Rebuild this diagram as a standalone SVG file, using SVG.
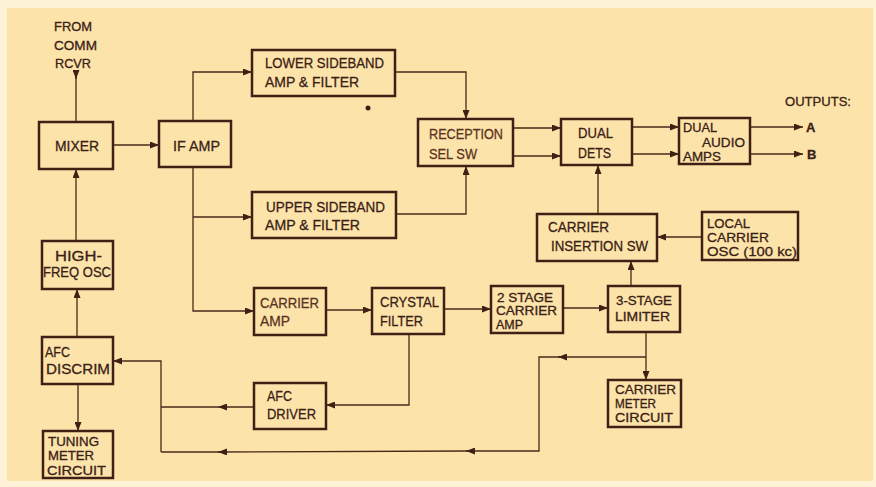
<svg xmlns="http://www.w3.org/2000/svg" width="876" height="487" viewBox="0 0 876 487">
<style>
.bx{fill:none;stroke:#3e2014;stroke-width:2.5}
.ln{fill:none;stroke:#4a2818;stroke-width:1.3}
.ar{marker-end:url(#ah)}
text{font-family:"Liberation Sans",Arial,sans-serif;font-size:15px;fill:#3a2115;stroke:#3a2115;stroke-width:0.3}
.s{font-size:13px}
.xs{font-size:12px}
.lt{fill:#5a3322;stroke:#5a3322}
.b{font-weight:bold}
</style>
<defs>
<marker id="ah" markerUnits="userSpaceOnUse" markerWidth="9" markerHeight="7" refX="9" refY="3.5" orient="auto">
<path d="M0,0 L9,3.5 L0,7 z" fill="#3e2014"/>
</marker>
</defs>
<rect x="0" y="0" width="876" height="487" fill="#fdf1d6"/>
<rect x="7" y="8" width="866" height="473" fill="#fce3aa"/>
<circle cx="368" cy="108" r="2.5" fill="#3e2014"/>

<g id="connectors">
<path class="ln" d="M76,73 L76,122"/>
<path class="ln ar" d="M76,70 L76,79"/>
<path class="ln ar" d="M113,145 L159,145"/>
<path class="ln ar" d="M193,121 L193,72 L252,72"/>
<path class="ln ar" d="M193,167 L193,311 L254,311"/>
<path class="ln ar" d="M193,217 L252,217"/>
<path class="ln ar" d="M395,72 L466,72 L466,119"/>
<path class="ln ar" d="M396,214 L466,214 L466,166"/>
<path class="ln ar" d="M513,128 L561,128"/>
<path class="ln ar" d="M513,156 L561,156"/>
<path class="ln ar" d="M632,127 L679,127"/>
<path class="ln ar" d="M632,154 L679,154"/>
<path class="ln ar" d="M750,127 L803,127"/>
<path class="ln ar" d="M750,154 L803,154"/>
<path class="ln ar" d="M598,214 L598,165"/>
<path class="ln ar" d="M702,237 L657,237"/>
<path class="ln ar" d="M631,286 L631,261"/>
<path class="ln ar" d="M326,310 L372,310"/>
<path class="ln ar" d="M444,309 L491,309"/>
<path class="ln ar" d="M563,308 L608,308"/>
<path class="ln ar" d="M409,334 L409,405 L326,405"/>
<path class="ln ar" d="M254,407 L218,407"/>
<path class="ln" d="M218,407 L161,407"/>
<path class="ln ar" d="M161,452 L161,361 L113,361"/>
<path class="ln ar" d="M646,332 L646,380"/>
<path class="ln ar" d="M646,357 L558,357"/>
<path class="ln ar" d="M560,357 L539,357 L539,451 L466,451"/>
<path class="ln ar" d="M468,451 L218,452"/>
<path class="ln" d="M220,452 L161,452"/>
<path class="ln ar" d="M77,337 L77,289"/>
<path class="ln ar" d="M76,241 L76,169"/>
<path class="ln ar" d="M78,384 L78,431"/>
</g>

<g id="source">
<text x="54" y="31" class="s" textLength="38" lengthAdjust="spacingAndGlyphs">FROM</text>
<text x="54" y="50" class="s" textLength="43" lengthAdjust="spacingAndGlyphs">COMM</text>
<text x="55" y="68" class="s" textLength="36" lengthAdjust="spacingAndGlyphs">RCVR</text>
</g>

<g id="mixer">
<rect class="bx" x="39" y="122" width="74" height="47"/>
<text x="55" y="151" textLength="44" lengthAdjust="spacingAndGlyphs">MIXER</text>
</g>

<g id="ifamp">
<rect class="bx" x="159" y="121" width="72" height="46"/>
<text x="173" y="151" textLength="47" lengthAdjust="spacingAndGlyphs">IF AMP</text>
</g>

<g id="lower">
<rect class="bx" x="252" y="50" width="143" height="46"/>
<text x="265" y="68" textLength="119" lengthAdjust="spacingAndGlyphs">LOWER SIDEBAND</text>
<text x="265" y="87" textLength="94" lengthAdjust="spacingAndGlyphs">AMP &amp; FILTER</text>
</g>

<g id="upper">
<rect class="bx" x="252" y="192" width="144" height="46"/>
<text x="266" y="212" textLength="119" lengthAdjust="spacingAndGlyphs">UPPER SIDEBAND</text>
<text x="265" y="230" textLength="95" lengthAdjust="spacingAndGlyphs">AMP &amp; FILTER</text>
</g>

<g id="reception">
<rect class="bx" x="418" y="119" width="95" height="47"/>
<text x="429" y="139" class="lt" textLength="74" lengthAdjust="spacingAndGlyphs">RECEPTION</text>
<text x="429" y="159" class="lt" textLength="48" lengthAdjust="spacingAndGlyphs">SEL SW</text>
</g>

<g id="dualdets">
<rect class="bx" x="561" y="119" width="71" height="46"/>
<text x="578" y="138" textLength="35" lengthAdjust="spacingAndGlyphs">DUAL</text>
<text x="578" y="158" textLength="33" lengthAdjust="spacingAndGlyphs">DETS</text>
</g>

<g id="audioamps">
<rect class="bx" x="679" y="118" width="71" height="46"/>
<text x="683" y="132" class="s" textLength="34" lengthAdjust="spacingAndGlyphs">DUAL</text>
<text x="702" y="147" class="s" textLength="43" lengthAdjust="spacingAndGlyphs">AUDIO</text>
<text x="683" y="161" class="s" textLength="38" lengthAdjust="spacingAndGlyphs">AMPS</text>
</g>

<g id="outputs">
<text x="785" y="106" class="s" textLength="66" lengthAdjust="spacingAndGlyphs">OUTPUTS:</text>
<text x="806" y="132" class="s b">A</text>
<text x="807" y="159" class="s b">B</text>
</g>

<g id="insertion">
<rect class="bx" x="537" y="214" width="120" height="47"/>
<text x="548" y="232" textLength="61" lengthAdjust="spacingAndGlyphs">CARRIER</text>
<text x="551" y="251" textLength="97" lengthAdjust="spacingAndGlyphs">INSERTION SW</text>
</g>

<g id="localosc">
<rect class="bx" x="702" y="212" width="96" height="48"/>
<text x="707" y="228" class="s" textLength="43" lengthAdjust="spacingAndGlyphs">LOCAL</text>
<text x="707" y="242" class="s" textLength="62" lengthAdjust="spacingAndGlyphs">CARRIER</text>
<text x="707" y="256" class="s" textLength="90" lengthAdjust="spacingAndGlyphs">OSC (100 kc)</text>
</g>

<g id="highfreq">
<rect class="bx" x="42" y="241" width="71" height="48"/>
<text x="55" y="261" textLength="47" lengthAdjust="spacingAndGlyphs">HIGH-</text>
<text x="43" y="277" textLength="68" lengthAdjust="spacingAndGlyphs">FREQ OSC</text>
</g>

<g id="carrieramp">
<rect class="bx" x="254" y="288" width="72" height="47"/>
<text x="260" y="308" class="lt" textLength="59" lengthAdjust="spacingAndGlyphs">CARRIER</text>
<text x="260" y="326" class="lt" textLength="30" lengthAdjust="spacingAndGlyphs">AMP</text>
</g>

<g id="crystal">
<rect class="bx" x="372" y="288" width="72" height="46"/>
<text x="380" y="307" textLength="59" lengthAdjust="spacingAndGlyphs">CRYSTAL</text>
<text x="380" y="326" textLength="43" lengthAdjust="spacingAndGlyphs">FILTER</text>
</g>

<g id="twostage">
<rect class="bx" x="491" y="286" width="72" height="47"/>
<text x="497" y="302" class="xs" textLength="56" lengthAdjust="spacingAndGlyphs">2 STAGE</text>
<text x="496" y="315" class="xs" textLength="61" lengthAdjust="spacingAndGlyphs">CARRIER</text>
<text x="496" y="329" class="xs" textLength="27" lengthAdjust="spacingAndGlyphs">AMP</text>
</g>

<g id="limiter">
<rect class="bx" x="608" y="286" width="72" height="46"/>
<text x="616" y="305" class="s" textLength="56" lengthAdjust="spacingAndGlyphs">3-STAGE</text>
<text x="615" y="321" class="s" textLength="55" lengthAdjust="spacingAndGlyphs">LIMITER</text>
</g>

<g id="afcdiscrim">
<rect class="bx" x="42" y="337" width="71" height="47"/>
<text x="45" y="357" textLength="25" lengthAdjust="spacingAndGlyphs">AFC</text>
<text x="46" y="374" textLength="64" lengthAdjust="spacingAndGlyphs">DISCRIM</text>
</g>

<g id="afcdriver">
<rect class="bx" x="254" y="383" width="72" height="46"/>
<text x="267" y="401" textLength="25" lengthAdjust="spacingAndGlyphs">AFC</text>
<text x="267" y="419" textLength="49" lengthAdjust="spacingAndGlyphs">DRIVER</text>
</g>

<g id="carriermeter">
<rect class="bx" x="608" y="380" width="73" height="47"/>
<text x="615" y="394" class="s" textLength="61" lengthAdjust="spacingAndGlyphs">CARRIER</text>
<text x="615" y="408" class="s" textLength="41" lengthAdjust="spacingAndGlyphs">METER</text>
<text x="615" y="422" class="s" textLength="58" lengthAdjust="spacingAndGlyphs">CIRCUIT</text>
</g>

<g id="tuningmeter">
<rect class="bx" x="43" y="431" width="70" height="47"/>
<text x="48" y="446" class="s" textLength="51" lengthAdjust="spacingAndGlyphs">TUNING</text>
<text x="48" y="460" class="s" textLength="46" lengthAdjust="spacingAndGlyphs">METER</text>
<text x="47" y="475" class="s" textLength="59" lengthAdjust="spacingAndGlyphs">CIRCUIT</text>
</g>
</svg>
